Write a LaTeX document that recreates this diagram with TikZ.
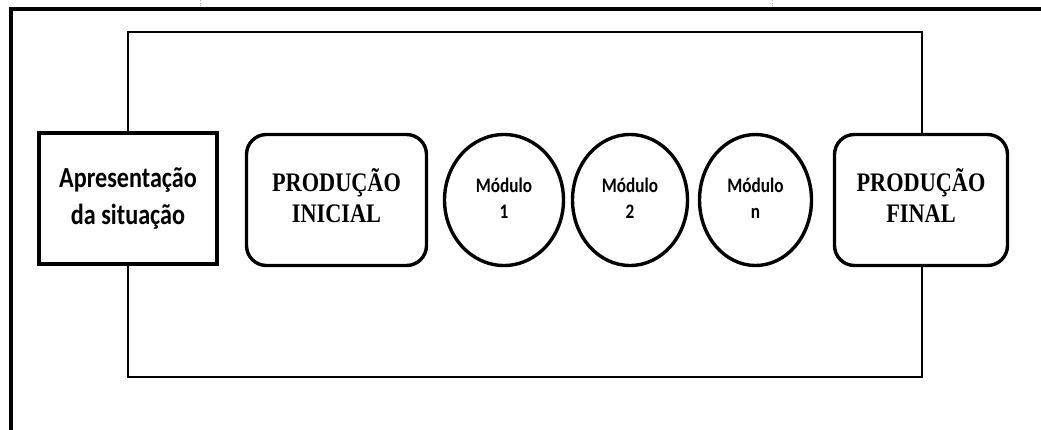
\documentclass[tikz,border=0pt]{standalone}
\usepackage{fontspec}
\usepackage{graphicx}
\setmainfont{Liberation Serif}
\newfontfamily\calib{Carlito}
\usetikzlibrary{shapes.geometric}
\newcommand\stretchtxt[1]{\scalebox{1}[1.2]{\begin{tabular}{@{}c@{}}#1\end{tabular}}}
\begin{document}
\begin{tikzpicture}[x=1pt,y=-1pt,
  sqbox/.style={draw, line width=3.6pt, fill=white, minimum width=178.5pt, minimum height=131.5pt,
    inner sep=0pt, align=center, font=\calib\bfseries\fontsize{24.2}{31}\selectfont},
  rbox/.style={draw, line width=3.4pt, rounded corners=20pt, fill=white, minimum height=131pt,
    inner sep=0pt, align=center, font=\bfseries\fontsize{22.3}{26}\selectfont},
  modnode/.style={ellipse, draw, line width=3.4pt, fill=white, minimum width=115pt,
    minimum height=131pt, inner sep=0pt, align=center,
    font=\calib\bfseries\fontsize{17.2}{21.5}\selectfont},
  tick/.style={gray!60, line width=0.6pt, dotted}]
\useasboundingbox (0,0) rectangle (1041,429);
% outer frame
\draw[line width=3.6pt] (11,435) -- (11,9) -- (1050,9);
\draw[tick] (200,0) -- (200,6);
\draw[tick] (772,0) -- (772,6);
% inner frame
\draw[line width=1.3pt] (128,32) rectangle (922,377);
% nodes
\node[sqbox] (apres) at (128,198.5) {\stretchtxt{Apresentação\\da situação}};
\node[rbox, minimum width=180pt] (pini) at (336.5,200) {\stretchtxt{PRODUÇÃO\\INICIAL}};
\node[modnode, minimum width=119pt] (m1) at (504,200) {\stretchtxt{Módulo\\1}};
\node[modnode] (m2) at (630,200) {\stretchtxt{Módulo\\2}};
\node[modnode, minimum width=112pt] (mn) at (755.5,200) {\stretchtxt{Módulo\\n}};
\node[rbox, minimum width=173pt] (pfin) at (921,200) {\stretchtxt{PRODUÇÃO\\FINAL}};
\end{tikzpicture}
\end{document}
